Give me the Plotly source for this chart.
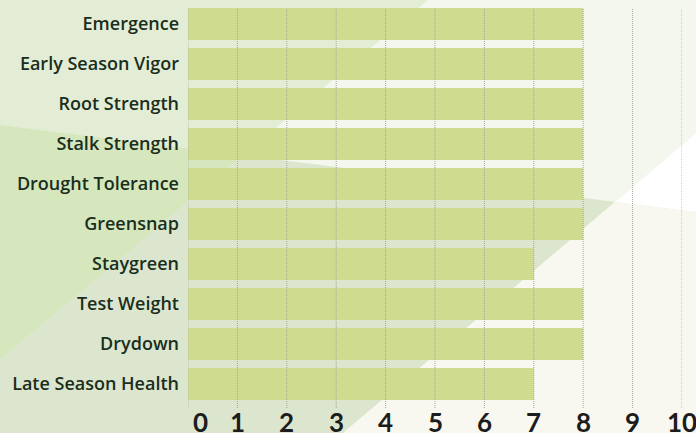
import plotly.graph_objects as go

categories = ["Emergence", "Early Season Vigor", "Root Strength", "Stalk Strength",
              "Drought Tolerance", "Greensnap", "Staygreen", "Test Weight",
              "Drydown", "Late Season Health"]
ratings = [8, 8, 8, 8, 8, 8, 7, 8, 8, 7]
x_ticks = [0, 1, 2, 3, 4, 5, 6, 7, 8, 9, 10]
x_labels = ["0", "1", "2", "3", "4", "5", "6", "7", "8", "9", "10"]

W, H = 696, 433
ML, MR, MT, MB = 188, 14, 8, 25
PW, PH = W - ML - MR, H - MT - MB


def pp(px, py):
    return (px - ML) / PW, (H - MB - py) / PH


def poly(points, color):
    pts = [pp(x, y) for x, y in points]
    d = "M " + " L ".join(f"{x:.5f},{y:.5f}" for x, y in pts) + " Z"
    return dict(type="path", path=d, xref="paper", yref="paper",
                fillcolor=color, line=dict(width=0), layer="below")


# background facets (pixel space)
A = [(0, 0), (428, 0), (243.2, 155.4), (0, 125)]
B = [(0, 125), (243.2, 155.4), (0, 360)]
D = [(428, 0), (696, 0), (696, 133), (614.9, 201.9), (243.2, 155.4)]
E = [(696, 133), (696, 212), (614.9, 201.9)]
F = [(243.2, 155.4), (614.9, 201.9), (343, 433), (0, 433), (0, 360)]
G = [(614.9, 201.9), (696, 212), (696, 433), (343, 433)]

shapes = [
    poly(A, "#e3edd6"),
    poly(B, "#d6e7be"),
    poly(D, "#f4f7ee"),
    poly(E, "#ffffff"),
    poly(F, "#dce6cf"),
    poly(G, "#f8f8f1"),
]

for v in x_ticks:
    shapes.append(dict(type="line", xref="x", yref="paper", x0=v, x1=v, y0=0, y1=1,
                       line=dict(color="#a4a4a4", width=1, dash="1px,1px"), layer="above"))

fig = go.Figure(go.Bar(
    x=ratings, y=categories, orientation="h", width=0.8,
    marker=dict(color="#cfdc8f", line=dict(width=0)),
    hoverinfo="x+y",
))

tick_font = dict(family="Lato", size=26, color="#1c1c1c", weight="bold")
annotations = []
for v, lab in zip(x_ticks, x_labels):
    annotations.append(dict(x=v, y=0, xref="x", yref="paper", text=lab, showarrow=False,
                            xanchor="center", yanchor="top", yshift=4,
                            xshift=12 if v == 0 else 0, font=tick_font))

fig.update_layout(
    width=W, height=H,
    margin=dict(l=ML, r=MR, t=MT, b=MB, pad=0),
    paper_bgcolor="#e3edd6",
    plot_bgcolor="rgba(0,0,0,0)",
    showlegend=False,
    shapes=shapes,
    annotations=annotations,
    xaxis=dict(range=[0, 10], tickvals=x_ticks, showticklabels=False,
               showgrid=False, zeroline=False, showline=False, ticks="",
               fixedrange=True),
    yaxis=dict(type="category", categoryorder="array", categoryarray=categories,
               range=[9.6, -0.4], showgrid=False, zeroline=False, showline=False,
               ticks="", ticklabelstandoff=8,
               tickfont=dict(family="Open Sans", size=18, color="#1a2e1c", weight=600),
               fixedrange=True),
)

fig.write_html("out.html", config={"displayModeBar": False},
               post_script="document.body.style.margin='0';")
